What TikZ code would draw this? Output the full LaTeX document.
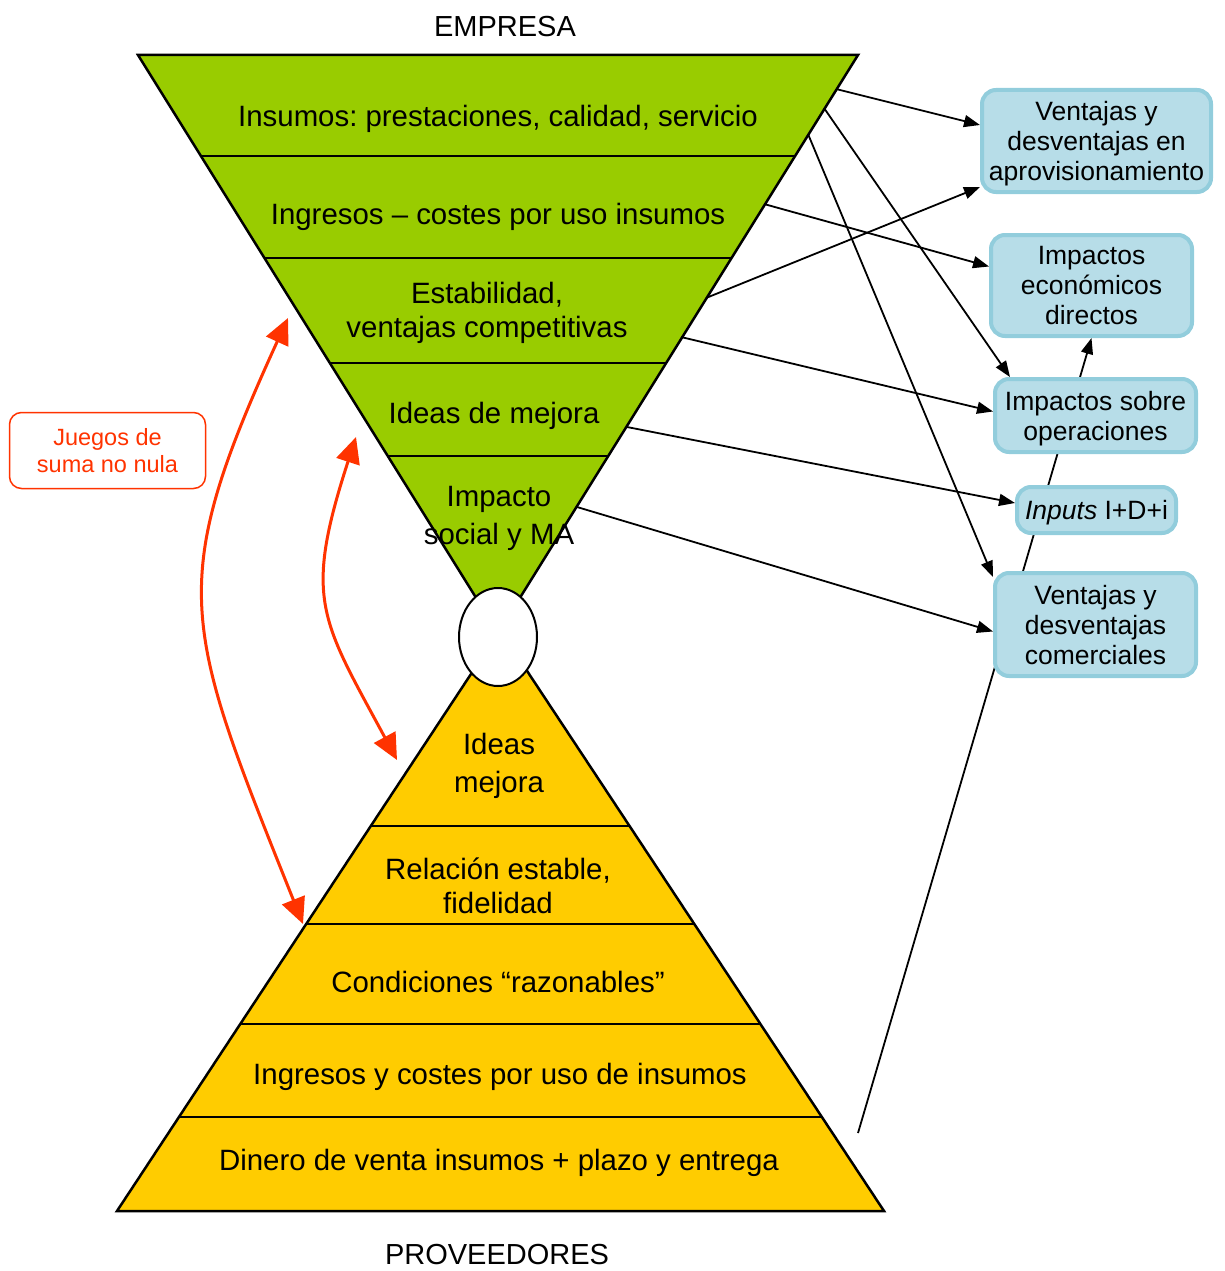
\documentclass[tikz,border=0pt]{standalone}
\usepackage{fontspec}
\setmainfont{Liberation Sans}
\usetikzlibrary{arrows.meta,shapes.geometric}
\definecolor{grn}{HTML}{99CC00}
\definecolor{ylw}{HTML}{FFCC00}
\definecolor{boxfill}{HTML}{B7DDE8}
\definecolor{boxline}{HTML}{92CDDC}
\definecolor{redline}{HTML}{FF3300}
\pgfdeclarelayer{behind}
\pgfsetlayers{behind,main}
\frenchspacing

\begin{document}
\begin{tikzpicture}[x=1pt,y=-1pt,
  bandtext/.style={font=\fontsize{29.4}{34}\selectfont, align=center, inner sep=0pt, yshift=-3pt},
  widetext/.style={font=\fontsize{29.4}{38}\selectfont, align=center, inner sep=0pt, yshift=-3pt},
  heading/.style={font=\fontsize{29}{34}\selectfont, inner sep=0pt},
  resultbox/.style={draw=boxline, fill=boxfill, line width=4pt, rounded corners=14pt,
    align=center, font=\fontsize{26.5}{30}\selectfont, inner sep=0pt,
    text depth=-2pt},
  notebox/.style={draw=redline, text=redline, line width=1.5pt, rounded corners=12pt,
    align=center, font=\fontsize{23.5}{27}\selectfont, inner sep=0pt,
    minimum width=196pt, minimum height=76pt},
  linkarrow/.style={line width=1.8pt, -{Triangle[length=16pt,width=12pt]}},
  gamearrow/.style={redline, line width=3pt,
    {Triangle[length=26pt,width=24pt]}-{Triangle[length=26pt,width=24pt]}},
  rim/.style={line width=2.5pt, line join=miter}
]
\useasboundingbox (0,0) rectangle (1224,1271);

% headings
\node[heading] (empresa) at (505,27) {EMPRESA};
\node[heading] (proveedores) at (497,1255) {PROVEEDORES};

% company funnel (inverted triangle)
\coordinate (gTL) at (138,55);
\coordinate (gTR) at (858,55);
\coordinate (gA) at (498,633);
\fill[grn] (gTL) -- (gTR) -- (gA) -- cycle;
\begin{scope}
  \clip (gTL) -- (gTR) -- (gA) -- cycle;
  \foreach \yy in {156,258,363,456} \draw[rim] (100,\yy) -- (900,\yy);
\end{scope}
\draw[rim] (gTL) -- (gTR) -- (gA) -- cycle;

% supplier pyramid
\coordinate (yBL) at (117,1211);
\coordinate (yBR) at (884,1211);
\coordinate (yA) at (500,630);
\fill[ylw] (yBL) -- (yBR) -- (yA) -- cycle;
\begin{scope}
  \clip (yBL) -- (yBR) -- (yA) -- cycle;
  \foreach \yy in {826,924,1024,1117} \draw[rim] (100,\yy) -- (900,\yy);
\end{scope}
\draw[rim] (yBL) -- (yBR) -- (yA) -- cycle;

% neck
\node[draw, fill=white, ellipse, line width=2pt, minimum width=78pt, minimum height=98pt, inner sep=0pt] (neck) at (498,637) {};

% funnel layers
\node[bandtext] (g1) at (498,116) {Insumos: prestaciones, calidad, servicio};
\node[bandtext] (g2) at (498,214) {Ingresos – costes por uso insumos};
\node[bandtext] (g3) at (487,310) {Estabilidad,\\ventajas competitivas};
\node[bandtext] (g4) at (494,413) {Ideas de mejora};
\node[widetext] (g5) at (499,515) {Impacto\\social y MA};

% pyramid layers
\node[widetext] (y1) at (499,763) {Ideas\\mejora};
\node[bandtext] (y2) at (498,883) {Relación estable,\\fidelidad};
\node[bandtext] (y3) at (498,979) {Condiciones “razonables”};
\node[bandtext] (y4) at (500,1074) {Ingresos y costes por uso de insumos};
\node[bandtext] (y5) at (499,1160) {Dinero de venta insumos + plazo y entrega};

% result boxes
\node[resultbox, minimum width=229pt, minimum height=102pt] (b1) at (1096.5,141)
  {Ventajas y\\desventajas en\\aprovisionamiento};
\node[resultbox, minimum width=201pt, minimum height=101pt] (b2) at (1091.5,285.5)
  {Impactos\\económicos\\directos};
\node[resultbox, minimum width=201pt, minimum height=73pt] (b3) at (1095.5,415.5)
  {Impactos sobre\\operaciones};
\node[resultbox, minimum width=159pt, minimum height=46pt] (b4) at (1096.5,510)
  {\textit{Inputs} I+D+i};
\node[resultbox, minimum width=201pt, minimum height=103pt] (b5) at (1095.5,624.5)
  {Ventajas y\\desventajas\\comerciales};

% note
\node[notebox] (juegos) at (107.5,450.5) {Juegos de\\suma no nula};

% connector start points on the layers
\coordinate (sa) at (836,89);
\coordinate (sb) at (706,298);
\coordinate (sc) at (764,204);
\coordinate (sd) at (824,108);
\coordinate (se) at (808,134);
\coordinate (sf) at (681,337);
\coordinate (sg) at (627,427);
\coordinate (sh) at (577,507);
\coordinate (si) at (858,1133);

\begin{pgfonlayer}{behind}
  \draw[linkarrow] (si) -- (b2.south);
\end{pgfonlayer}
\draw[linkarrow] (sa) -- ([yshift=16pt]b1.west);
\draw[linkarrow] (sb) -- ([yshift=-46pt]b1.west);
\draw[linkarrow] (sc) -- ([yshift=19pt]b2.west);
\draw[linkarrow] (sd) -- ([xshift=17pt]b3.north west);
\draw[linkarrow] (se) -- ([yshift=-6pt]b5.north west);
\draw[linkarrow] (sf) -- ([yshift=4pt]b3.west);
\draw[linkarrow] (sg) -- ([yshift=7pt]b4.west);
\draw[linkarrow] (sh) -- ([yshift=-7pt]b5.west);

% non-zero-sum links
\coordinate (ra) at (288,318);
\coordinate (rb) at (303,924);
\coordinate (rc) at (356,437);
\coordinate (rd) at (397,760);
\draw[gamearrow] (ra) .. controls (165,587) and (183,624) .. (rb);
\draw[gamearrow] (rc) .. controls (303,600) and (321,619) .. (rd);

\end{tikzpicture}
\end{document}
